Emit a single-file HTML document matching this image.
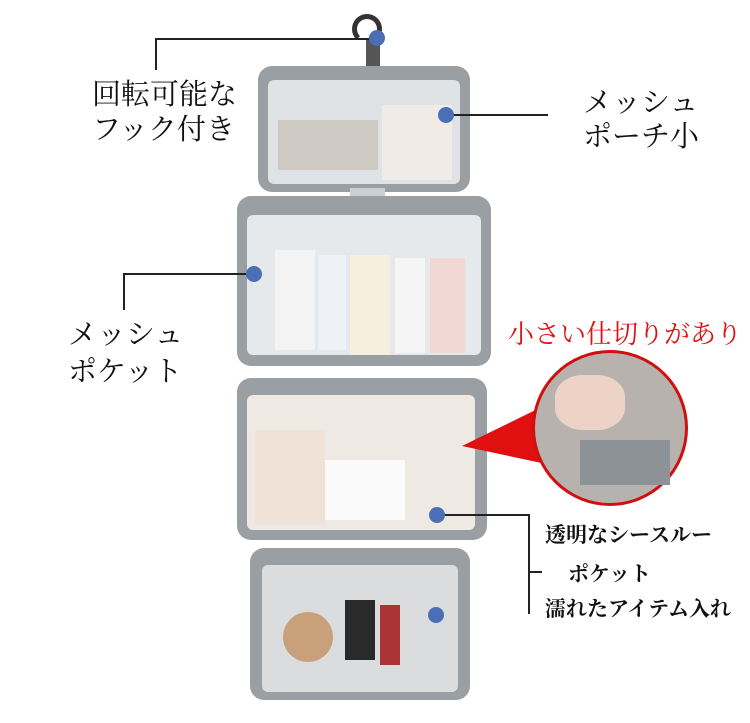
<!DOCTYPE html>
<html><head><meta charset="utf-8"><style>
body{margin:0;width:750px;height:723px;background:#fff;position:relative;overflow:hidden;font-family:"Liberation Serif","Noto Serif CJK SC",serif}
div{position:absolute;box-sizing:border-box}
.t{color:#111;white-space:nowrap}
.panel{background:#9a9fa3;border-radius:14px}
.inner{background:#e6e9ec;border-radius:6px}
.dot{width:16px;height:16px;border-radius:50%;background:#4a6fb5}
.ln{background:#222}
</style></head><body>
<div style="left:352px;top:14px;width:30px;height:30px;border:5px solid #333;border-radius:50%;border-bottom-color:transparent"></div>
<div style="left:366px;top:40px;width:14px;height:30px;background:#555"></div>
<div class="panel" style="left:258px;top:66px;width:212px;height:126px"></div>
<div class="inner" style="left:268px;top:80px;width:192px;height:104px;background:#dfe3e6"></div>
<div style="left:278px;top:120px;width:100px;height:50px;background:#cfcac4"></div>
<div style="left:382px;top:105px;width:70px;height:75px;background:#f1ebe8"></div>
<div style="left:350px;top:188px;width:35px;height:20px;background:#c9cfd3"></div>
<div class="panel" style="left:237px;top:196px;width:254px;height:170px"></div>
<div class="inner" style="left:247px;top:215px;width:234px;height:140px"></div>
<div style="left:275px;top:250px;width:40px;height:100px;background:#f3f3f3"></div>
<div style="left:318px;top:255px;width:28px;height:95px;background:#eef2f6"></div>
<div style="left:350px;top:255px;width:40px;height:100px;background:#f6efe0"></div>
<div style="left:395px;top:258px;width:30px;height:95px;background:#f5f5f5"></div>
<div style="left:430px;top:258px;width:35px;height:95px;background:#f1d8d2"></div>
<div class="panel" style="left:237px;top:378px;width:250px;height:162px"></div>
<div class="inner" style="left:247px;top:395px;width:228px;height:135px;background:#efe9e4"></div>
<div style="left:255px;top:430px;width:70px;height:95px;background:#f1e2d8"></div>
<div style="left:325px;top:460px;width:80px;height:60px;background:#fafafa"></div>
<div class="panel" style="left:250px;top:548px;width:220px;height:152px"></div>
<div class="inner" style="left:262px;top:565px;width:196px;height:127px;background:#dadcde"></div>
<div style="left:283px;top:612px;width:50px;height:50px;border-radius:50%;background:#c8a07a"></div>
<div style="left:345px;top:600px;width:30px;height:60px;background:#2a2a2a"></div>
<div style="left:380px;top:605px;width:20px;height:60px;background:#a33"></div>
<svg style="position:absolute;left:0;top:0" width="750" height="723"><polygon points="462,446 560,398 565,468" fill="#e01010"/></svg>
<div style="left:532px;top:350px;width:156px;height:156px;border-radius:50%;background:#b8b2ae;border:3px solid #d01010"></div>
<div style="left:555px;top:375px;width:70px;height:55px;border-radius:40%;background:#ecd3c6"></div>
<div style="left:580px;top:440px;width:90px;height:45px;background:#8d9296"></div>
<div class="ln" style="left:155px;top:38px;width:222px;height:2px"></div>
<div class="ln" style="left:155px;top:38px;width:2px;height:32px"></div>
<div class="dot" style="left:369px;top:30px"></div>
<div class="ln" style="left:446px;top:114px;width:102px;height:2px"></div>
<div class="dot" style="left:438px;top:107px"></div>
<div class="ln" style="left:123px;top:273px;width:131px;height:2px"></div>
<div class="ln" style="left:123px;top:273px;width:2px;height:37px"></div>
<div class="dot" style="left:246px;top:266px"></div>
<div class="ln" style="left:437px;top:514px;width:92px;height:2px"></div>
<div class="ln" style="left:528px;top:514px;width:2px;height:100px"></div>
<div class="ln" style="left:528px;top:571px;width:14px;height:2px"></div>
<div class="dot" style="left:429px;top:507px"></div>
<div class="dot" style="left:428px;top:607px"></div>
<div class="t" style="left:92px;top:72px;font-size:29px">回転可能な</div>
<div class="t" style="left:92px;top:107px;font-size:29px">フック付き</div>
<div class="t" style="left:583px;top:80px;font-size:29px">メッシュ</div>
<div class="t" style="left:583px;top:114px;font-size:29px">ポーチ小</div>
<div class="t" style="left:68px;top:312px;font-size:29px">メッシュ</div>
<div class="t" style="left:68px;top:349px;font-size:29px">ポケット</div>
<div class="t" style="left:508px;top:314px;font-size:26px;color:#e01010">小さい仕切りがあり</div>
<div class="t" style="left:545px;top:519px;font-size:21px;font-weight:bold">透明なシースルー</div>
<div class="t" style="left:568px;top:558px;font-size:21px;font-weight:bold">ポケット</div>
<div class="t" style="left:545px;top:593px;font-size:21px;font-weight:bold">濡れたアイテム入れ</div>
</body></html>
